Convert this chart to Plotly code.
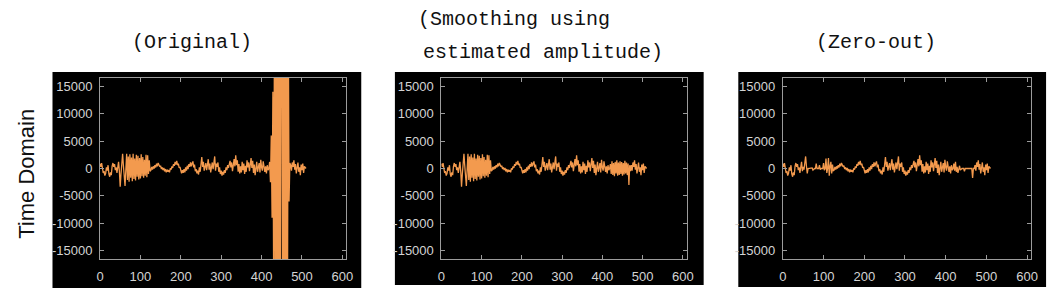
import plotly.graph_objects as go

# ---------------- data (sample index step 2) ----------------
head_start = 0
head = [900, 300, 1000, -200, -800, -500, -1300, -900, 200, -400, 600, -1000,
        -1500, -700, -1200, 400, 1000, 300, 800, -300, 200, -800, 600, 1200]  # 0..46

pre_start = 48
pre_orig = [-500, -3300, -1000, 1800, 2700, 500, -1500, -3200, -200]      # 48..64
pre_zero = [-500, 300, -200, 1200, 2200, 400, -900, 0, 0]

burst1_start = 66
burst1_orig = [2700, -2100, 2200, -2400, 2600, -1700, 2000, -2300, 2700, -1900,
               1800, -2200, 2500, -1500, 2300, -2000, 1900, -1800, 2600, -1400,
               2100, -1700, 1600, -1300, 2500, -1600, 2400, -1000, 1500, -500]   # 66..124
burst1_zero = [0, 0, 0, 100, -300, 0, 0, 0, 900, 0,
               0, 0, 600, -200, 0, 0, 0, 1000, -300, 0,
               1800, -800, 0, 1900, -1300, 400, 1200, -900, 700, -400]

mid_start = 126
mid = [-300, 300, -200, 400, 0, 600, 200, 900, 400, 1000,
       600, 300, 500, -100, 200, -300, 100, -500, -100, -700,
       -200, -600, -300, -700, 0, -200, 400, 100, 800, 500,
       1200, 700, 1400, 600, 900, 100, 300, -500,
       -900, -300, -800, -100, -700, 200, -400, 500, -100, 800,
       300, 1100, 400, 900, 1300, 200, 700, -500, -100, -900,
       -400, -1100, 200, -600, 800, 2100, 300, 1200, -400, 600,
       1000, -300, 700, 1700, -200, 900, -700, 600, 1100, -100,
       1900, 2200, -400, 900, 300, 1100, -600, 200, -1000, -400,
       -1300, -600, -1100, -300, -800, 200, -300, 600, 100, 1000,
       1400, 200, 1100, -500, 700, 1700, 400, 2400, 600, 1500,
       -600, 800, -900, 400, -700, 1200, -300, 900, -1000, 500,
       -600, 1500, 200, 1100, -500, 800, 1900, 100, 1400, -800,
       700, -1200, 500, 1200, -600, 400, 1000, -700, 1600, 200,
       -400, 1300, 500, -600, 400, -900, 600, -300, 0]   # 126..418

burst2_start = 420
burst2_orig = [1200, -2500, 6000, -9000, 14000, -22000, 30000, -30000, 30000, -30000,
               30000, -30000, 30000, -30000, 30000, 30000, -30000, 30000, -30000, 30000,
               -30000, 30000, -30000, 30000, -6000, 1000]   # 420..470
burst2_smooth = [800, -1000, 1300, -1200, 1000, -1400, 1200, -900, 1500, -1300,
                 1100, -1200, 1300, -1000, 1200, -1300, 1000, -1100, 1400, -900,
                 1100, -1200, 900, -3000, 600, -500]
burst2_zero = [900, -400, 1200, -600, 300, -800, 200, 500, -300, 0,
               0, 0, 0, -500, 0, 0, 0, 0, 0, 0,
               0, 0, 0, -1700, 0, 0]

tail_start = 472
tail = [600, -400, 1100, 300, 1500, -200, 800, -900, 400, 1100,
        -600, 200, -1200, 700, -300, 900, -800, 400, 200, 0]   # 472..510

titles = ["(Original)", "(Smoothing using", "estimated amplitude)", "(Zero-out)"]
y_label = "Time Domain"
x_ticks = [0, 100, 200, 300, 400, 500, 600]
y_ticks = [-15000, -10000, -5000, 0, 5000, 10000, 15000]
y_tick_text = ["-15000", "-10000", "-5000", "0", "5000", "10000", "15000"]


def build(segments):
    xs, ys = [], []
    for start, vals in segments:
        for i, v in enumerate(vals):
            xs.append(start + 2 * i)
            ys.append(v)
    return xs, ys


series = [
    build([(head_start, head), (pre_start, pre_orig), (burst1_start, burst1_orig),
           (mid_start, mid), (burst2_start, burst2_orig), (tail_start, tail)]),
    build([(head_start, head), (pre_start, pre_orig), (burst1_start, burst1_orig),
           (mid_start, mid), (burst2_start, burst2_smooth), (tail_start, tail)]),
    build([(head_start, head), (pre_start, pre_zero), (burst1_start, burst1_zero),
           (mid_start, mid), (burst2_start, burst2_zero), (tail_start, tail)]),
]

W, H = 1060, 300
frames = [(97, 346), (442, 690), (787, 1038)]   # plot-area px (left, right)
frame_top, frame_bot = 78, 259
boxes = [(49, 361, 72, 288), (395, 707, 72, 285), (742, 1053, 72, 287)]

fig = go.Figure()
line_col = "#f39a4e"
axis_col = "#9c9c9c"
tick_font = dict(family="Liberation Sans, Arial, sans-serif", size=13, color="#d4d4d4")

for k, (xs, ys) in enumerate(series):
    sfx = "" if k == 0 else str(k + 1)
    fig.add_trace(go.Scatter(x=xs, y=ys, mode="lines", xaxis="x" + sfx, yaxis="y" + sfx,
                             line=dict(color=line_col, width=1.3), showlegend=False,
                             hoverinfo="skip"))
    l, r = frames[k]
    fig.layout["xaxis" + sfx] = dict(
        domain=[l / W, r / W], anchor="y" + sfx, range=[0, 610],
        tickvals=x_ticks, ticks="inside", ticklen=4, tickcolor=axis_col,
        showline=True, linecolor=axis_col, linewidth=1, mirror="ticks",
        showgrid=False, zeroline=False, tickfont=tick_font, ticklabelstandoff=5,
        fixedrange=True)
    fig.layout["yaxis" + sfx] = dict(
        domain=[(H - frame_bot) / H, (H - frame_top) / H], anchor="x" + sfx,
        range=[-16500, 16500], tickvals=y_ticks, ticktext=y_tick_text,
        ticks="inside", ticklen=4, tickcolor=axis_col,
        showline=True, linecolor=axis_col, linewidth=1, mirror="ticks",
        showgrid=False, zeroline=False, tickfont=tick_font, ticklabelstandoff=4,
        fixedrange=True)

shapes = []
for (x0, x1, y0, y1) in boxes:
    shapes.append(dict(type="rect", xref="paper", yref="paper", layer="below",
                       x0=x0 / W, x1=x1 / W, y0=1 - y1 / H, y1=1 - y0 / H,
                       fillcolor="black", line=dict(width=0)))

title_font = dict(family="Liberation Mono, DejaVu Sans Mono, monospace", size=20, color="#111111")
ann = [
    dict(text=titles[0], x=190 / W, y=1 - 43 / H, xanchor="center", yanchor="middle"),
    dict(text=titles[1], x=416 / W, y=1 - 20 / H, xanchor="left", yanchor="middle"),
    dict(text=titles[2], x=421 / W, y=1 - 52 / H, xanchor="left", yanchor="middle"),
    dict(text=titles[3], x=881 / W, y=1 - 43 / H, xanchor="center", yanchor="middle"),
]
annotations = []
for a in ann:
    a.update(xref="paper", yref="paper", showarrow=False, font=title_font)
    annotations.append(a)
annotations.append(dict(text=y_label, x=22 / W, y=1 - 174 / H, xref="paper", yref="paper",
                        xanchor="center", yanchor="middle", textangle=-90, showarrow=False,
                        font=dict(family="Liberation Sans, Arial, sans-serif", size=22,
                                  color="#111111")))

fig.update_layout(width=W, height=H, margin=dict(l=0, r=0, t=0, b=0),
                  paper_bgcolor="white", plot_bgcolor="black",
                  shapes=shapes, annotations=annotations)

fig.write_html("out.html")
